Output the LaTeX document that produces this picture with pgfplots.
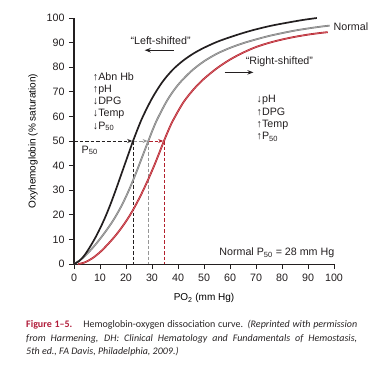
\documentclass[border=0pt]{standalone}
\usepackage{pgfplots}
\pgfplotsset{compat=1.18}
\usepackage{pgfplotstable}
\usepackage{fontspec}
\setmainfont{Liberation Sans}
\newfontfamily\capfont{Carlito}
\usetikzlibrary{arrows.meta}
\definecolor{crvblack}{RGB}{35,31,32}
\definecolor{crvgray}{RGB}{128,128,128}
\definecolor{crvgrayin}{RGB}{175,175,175}
\definecolor{crvred}{RGB}{178,32,44}
\definecolor{crvredin}{RGB}{222,110,115}
\definecolor{dashgray}{RGB}{150,150,150}
\definecolor{figred}{RGB}{176,28,58}
\definecolor{captext}{RGB}{40,36,37}
\newcommand\chf{\fontsize{10.7}{12.3}\selectfont}
\pgfplotstableread{
x y
1.5 0
4 0.6
7 2.3
10 4.8
13 8.0
16 11.6
19 15.8
22 20.7
25 26.5
28 33.1
31 40.4
34 48.4
34.6 50
36 53.6
38 58.2
42 65.6
46 71.0
50 75.3
55 79.6
60 83.1
65 85.9
70 88.2
75 89.9
80 91.25
85 92.35
90 93.25
95 93.95
97.6 94.25
}\redcurve
\pgfplotstableread{
x y
0 0
3 2.1
6 5.2
9 8.85
12 13.0
15 17.6
18 23.1
21 29.7
24 37.4
26 42.9
28 48.4
28.6 50
30 53.85
32 58.8
36 66.8
40 72.8
45 78.3
50 82.4
55 85.5
60 87.85
65 89.75
70 91.3
75 92.7
80 93.85
85 94.9
90 95.75
95 96.5
98.3 96.9
}\graycurve
\pgfplotstableread{
x y
0 0
2 1.2
4 3.5
6 6.7
8 10.3
10 14.4
12 19.0
14 24.2
16 29.9
18 35.9
20 41.9
22 47.9
22.7 50
26 58.8
30 67.3
34 74.0
38 79.0
42 82.7
46 85.6
50 87.9
55 90.3
60 92.2
65 93.9
70 95.4
76 96.9
82 98.1
88 99.2
93.4 100
}\blackcurve
\begin{document}
\begin{tikzpicture}
\path[use as bounding box] (0pt,0pt) rectangle (374pt,368pt);
\begin{axis}[
  at={(74pt,104pt)}, anchor=south west,
  scale only axis, width=260pt, height=246pt,
  xmin=0, xmax=100, ymin=0, ymax=100,
  axis lines=left, axis line style={-, line width=1pt, crvblack},
  xtick={0,10,...,100}, ytick={0,10,...,100},
  tick align=outside, major tick length=5pt,
  tick style={line width=0.8pt, crvblack},
  every tick label/.append style={font=\chf, text=crvblack},
  /pgf/number format/assume math mode=true,
  xticklabel style={yshift=-1pt},
  yticklabel style={xshift=-1pt},
  label style={font=\chf, text=crvblack},
  xlabel={PO\textsubscript{2} (mm Hg)},
  ylabel={Oxyhemoglobin (\% saturation)},
  every axis x label/.style={at={(axis description cs:0.5,-0.138)}, anchor=center},
  every axis y label/.style={at={(axis description cs:-0.158,0.5)}, anchor=center, rotate=90},
  clip=false,
]
% dashed P50 guides
\addplot[crvblack, line width=0.8pt, dash pattern=on 3.5pt off 2pt] coordinates {(22.7,50) (22.7,0)};
\addplot[dashgray, line width=0.8pt, dash pattern=on 3.5pt off 2pt] coordinates {(28.6,50) (28.6,0)};
\addplot[crvred, line width=0.8pt, dash pattern=on 3.5pt off 2pt] coordinates {(34.6,50) (34.6,0)};
\addplot[crvblack, line width=0.8pt, dash pattern=on 3.5pt off 2pt, -{Stealth[length=5pt,width=4pt]}] coordinates {(0,50) (22.4,50)};
\addplot[dashgray, line width=0.8pt, dash pattern=on 3.5pt off 2pt, -{Stealth[length=5pt,width=4pt]}] coordinates {(23.0,50) (28.3,50)};
\addplot[crvred, line width=0.8pt, dash pattern=on 3.5pt off 2pt, -{Stealth[length=5pt,width=4pt]}] coordinates {(28.9,50) (34.3,50)};
% right-shifted (red)
\addplot[crvred, line width=1.8pt, smooth, tension=0.5] table {\redcurve};
\addplot[crvredin, line width=0.5pt, smooth, tension=0.5] table {\redcurve};
% normal (gray)
\addplot[crvgray, line width=1.8pt, smooth, tension=0.5] table {\graycurve};
\addplot[crvgrayin, line width=0.5pt, smooth, tension=0.5] table {\graycurve};
% left-shifted (black)
\addplot[crvblack, line width=1.7pt, smooth, tension=0.5] table {\blackcurve};
% annotations
\node[font=\chf, text=crvblack, anchor=base] at (axis cs:33.3,89.2) {“Left-shifted”};
\draw[crvblack, line width=0.9pt, -{Stealth[length=6pt,width=4.5pt]}] (axis cs:38.3,86.9) -- (axis cs:27.2,86.9);
\node[font=\chf, text=crvblack, anchor=base] at (axis cs:79,80.9) {“Right-shifted”};
\draw[crvblack, line width=0.9pt, -{Stealth[length=6pt,width=4.5pt]}] (axis cs:57.9,77.9) -- (axis cs:69,77.9);
\node[font=\chf, text=crvblack, anchor=north west, align=left, inner sep=0pt] at (axis cs:7.2,78.0)
  {↑Abn Hb\\↑pH\\↓DPG\\↓Temp\\↓P\textsubscript{50}};
\node[font=\chf, text=crvblack, anchor=north west, align=left, inner sep=0pt] at (axis cs:70.2,68.6)
  {↓pH\\↑DPG\\↑Temp\\↑P\textsubscript{50}};
\node[font=\chf, text=crvblack, anchor=base west, inner sep=0pt] at (axis cs:2.9,45.1) {P\textsubscript{50}};
\node[font=\chf, text=crvblack, anchor=base west, inner sep=0pt] at (axis cs:99.8,95.1) {Normal};
\node[font=\chf, text=crvblack, anchor=base east, inner sep=0pt] at (axis cs:100.2,3.5) {Normal P\textsubscript{50} = 28 mm Hg};
\end{axis}
% caption
\node[anchor=base west, inner sep=0pt, font=\capfont\fontsize{10}{12}\selectfont, text=captext] at (26pt,41pt)
  {\makebox[331pt][s]{\textcolor{figred}{\bfseries Figure 1–5.}\hspace{1.1em}Hemoglobin-oxygen dissociation curve. \itshape (Reprinted with permission}};
\node[anchor=base west, inner sep=0pt, font=\capfont\fontsize{10}{12}\selectfont\itshape, text=captext] at (26pt,27pt)
  {\makebox[331pt][s]{from Harmening, DH: Clinical Hematology and Fundamentals of Hemostasis,}};
\node[anchor=base west, inner sep=0pt, font=\capfont\fontsize{10}{12}\selectfont\itshape, text=captext] at (26pt,13.5pt)
  {5th ed., FA Davis, Philadelphia, 2009.)};
\end{tikzpicture}
\end{document}
